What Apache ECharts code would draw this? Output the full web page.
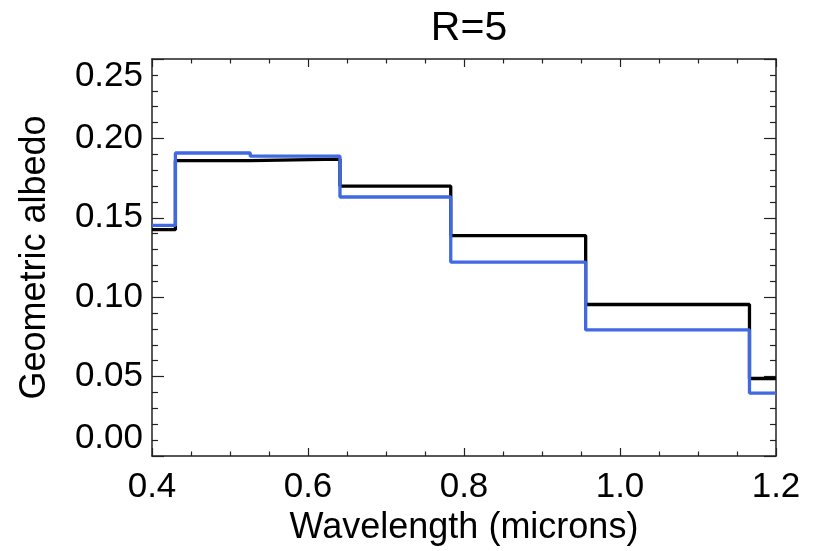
<!DOCTYPE html>
<html>
<head>
<meta charset="utf-8">
<script src="https://cdn.jsdelivr.net/npm/echarts@6/dist/echarts.min.js"></script>
<style>html,body{margin:0;padding:0;background:#fff}#c{width:817px;height:551px}</style>
</head>
<body>
<div id="c"></div>
<script>
// Bin edges (microns) and albedo per bin
const binEdges = [0.4, 0.430, 0.526, 0.641, 0.783, 0.956, 1.166, 1.2];
const blackValues = [0.1425, 0.186, 0.187, 0.170, 0.1388, 0.0954, 0.0488];
const blueValues  = [0.1452, 0.1908, 0.1888, 0.1631, 0.1221, 0.0794, 0.0396];
const xTicks = [0.4, 0.6, 0.8, 1.0, 1.2];
const yTicks = [0.00, 0.05, 0.10, 0.15, 0.20, 0.25];
const titleText = 'R=5';
const xName = 'Wavelength (microns)';
const yName = 'Geometric albedo';

function stepData(vals) {
  const d = [];
  for (let i = 0; i < binEdges.length; i++) {
    d.push([binEdges[i], vals[Math.min(i, vals.length - 1)]]);
  }
  return d;
}

const FONT = '"Liberation Sans", Arial, Helvetica, sans-serif';
const axisCol = '#222';

const chart = echarts.init(document.getElementById('c'), null, {renderer: 'canvas'});
const xBase = {
  type: 'value', min: xTicks[0], max: xTicks[xTicks.length - 1], interval: 0.2,
  axisLine: {show: true, onZero: false, lineStyle: {color: axisCol, width: 1.5}},
  axisTick: {show: true, inside: true, length: 8, lineStyle: {color: axisCol, width: 1.2}},
  minorTick: {show: true, splitNumber: 4, length: 4.5, lineStyle: {color: axisCol, width: 1.2}},
  splitLine: {show: false}
};
const yBase = {
  type: 'value', min: yTicks[0], max: yTicks[yTicks.length - 1], interval: 0.05,
  axisLine: {show: true, onZero: false, lineStyle: {color: axisCol, width: 1.5}},
  axisTick: {show: true, inside: true, length: 12, lineStyle: {color: axisCol, width: 1.2}},
  minorTick: {show: true, splitNumber: 5, length: 6, lineStyle: {color: axisCol, width: 1.2}},
  splitLine: {show: false}
};

chart.setOption({
  animation: false,
  backgroundColor: '#fff',
  title: {
    text: titleText, left: 464, top: 3, textAlign: 'center',
    textStyle: {fontFamily: FONT, fontSize: 41, fontWeight: 'normal', color: '#000'}
  },
  grid: {left: 152, right: 41, top: 59, bottom: 92, containLabel: false},
  xAxis: [
    Object.assign({}, xBase, {
      position: 'bottom',
      name: xName, nameLocation: 'middle', nameGap: 54,
      nameTextStyle: {fontFamily: FONT, fontSize: 36, color: '#000'},
      axisLabel: {show: true, margin: 14, fontFamily: FONT, fontSize: 35, color: '#000',
        formatter: v => v.toFixed(1)}
    }),
    Object.assign({}, xBase, {position: 'top', axisLabel: {show: false}})
  ],
  yAxis: [
    Object.assign({}, yBase, {
      position: 'left',
      name: yName, nameLocation: 'middle', nameGap: 99,
      nameTextStyle: {fontFamily: FONT, fontSize: 36, color: '#000'},
      axisLabel: {show: true, margin: 9, fontFamily: FONT, fontSize: 35, color: '#000',
        verticalAlignMinLabel: 'bottom', verticalAlignMaxLabel: 'top',
        formatter: v => v.toFixed(2)}
    }),
    Object.assign({}, yBase, {position: 'right', axisLabel: {show: false}})
  ],
  series: [
    {type: 'line', step: 'end', data: stepData(blackValues), showSymbol: false, symbol: 'none',
     lineStyle: {color: '#000', width: 3.3}, z: 2},
    {type: 'line', step: 'end', data: stepData(blueValues), showSymbol: false, symbol: 'none',
     lineStyle: {color: '#4169E1', width: 3.3}, z: 3}
  ]
});
</script>
</body>
</html>
